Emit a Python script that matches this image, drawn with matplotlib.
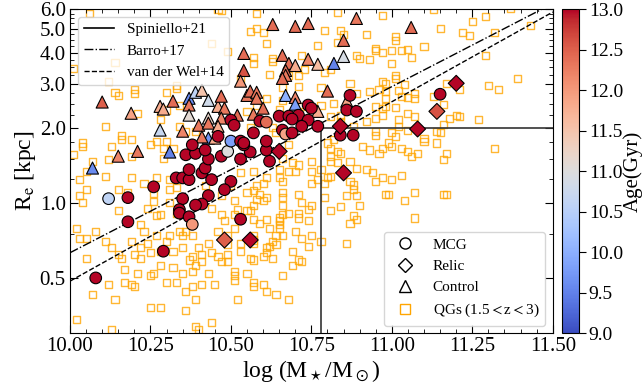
import matplotlib
matplotlib.use("Agg")
import matplotlib.pyplot as plt
from matplotlib.lines import Line2D
from matplotlib.ticker import FixedLocator, MultipleLocator, FormatStrFormatter, NullFormatter
import numpy as np

plt.rcParams["font.family"] = "serif"
plt.rcParams["font.serif"] = ["Liberation Serif", "DejaVu Serif"]
plt.rcParams["mathtext.fontset"] = "stix"

# --- MCGs (circles), colour = age [Gyr] ---------------------------------
mcg_mass = [10.08, 10.12, 10.18, 10.18, 10.29, 10.26, 10.33, 10.35, 10.37, 10.37,
            10.41, 10.42, 10.43, 10.47, 10.53, 10.44, 10.50, 10.48, 10.43, 10.35,
            10.41, 10.39, 10.34, 10.34, 10.37, 10.38, 10.53, 10.62, 10.56, 10.61,
            10.49, 10.50, 10.46, 10.53, 10.54, 10.36, 10.39, 10.38, 10.42, 10.50,
            10.51, 10.59, 10.61, 10.65, 10.68, 10.71, 10.74, 10.75, 10.69, 10.74,
            10.72, 10.77, 10.66, 10.67, 10.69, 10.57, 10.54, 10.61, 10.87, 10.86,
            10.89, 10.84, 10.88, 11.15]
mcg_re = [0.50, 1.04, 1.05, 0.84, 0.64, 1.16, 1.26, 1.26, 1.24, 1.36,
          1.32, 1.38, 1.50, 1.54, 1.50, 1.24, 1.22, 1.13, 1.07, 1.04,
          0.99, 0.98, 0.94, 0.91, 0.88, 0.82, 0.86, 1.47, 1.60, 1.63,
          1.61, 1.77, 1.85, 1.77, 1.71, 1.56, 1.58, 1.71, 1.63, 2.15,
          2.05, 2.13, 2.11, 2.23, 2.23, 2.25, 2.47, 2.40, 2.17, 2.15,
          2.03, 2.03, 1.96, 1.89, 1.91, 1.91, 1.74, 1.77, 2.70, 2.36,
          2.33, 1.87, 1.87, 2.73]
mcg_age = [13.0, 10.6, 13.0, 13.0, 13.0, 13.0, 13.0, 13.0, 13.0, 13.0,
           13.0, 13.0, 13.0, 13.0, 13.0, 13.0, 13.0, 13.0, 13.0, 13.0,
           13.0, 13.0, 13.0, 13.0, 13.0, 12.0, 13.0, 13.0, 13.0, 13.0,
           11.0, 9.8, 13.0, 13.0, 13.0, 13.0, 13.0, 13.0, 13.0, 13.0,
           13.0, 13.0, 12.4, 13.0, 13.0, 13.0, 13.0, 13.0, 13.0, 13.0,
           13.0, 13.0, 13.0, 11.9, 13.0, 13.0, 13.0, 13.0, 13.0, 13.0,
           13.0, 13.0, 13.0, 13.0]

# --- Relics (diamonds) -----------------------------------------------------
relic_mass = [10.65, 10.84, 10.85, 11.08, 11.14, 11.20, 10.48, 10.56]
relic_re = [1.61, 2.03, 1.32, 1.98, 2.33, 3.02, 0.71, 0.71]
relic_age = [13.0, 13.0, 13.0, 13.0, 12.6, 13.0, 12.5, 13.0]

# --- Control sample (triangles) -------------------------------------------
ctl_mass = [10.07, 10.15, 10.21, 10.31, 10.10, 10.19, 10.28, 10.28, 10.32, 10.35,
            10.37, 10.39, 10.41, 10.43, 10.37, 10.37, 10.29, 10.46, 10.48, 10.47,
            10.43, 10.47, 10.52, 10.40, 10.43, 10.46, 10.43, 10.41, 10.45, 10.54,
            10.54, 10.53, 10.55, 10.63, 10.70, 10.74, 10.89, 11.06, 10.85, 10.66,
            10.68, 10.70, 10.74, 10.77, 10.82, 10.85, 10.67, 10.67, 10.66, 10.56,
            10.58, 10.58, 10.67, 10.70, 10.80, 10.70, 10.60, 10.57, 10.77, 10.86]
ctl_re = [1.38, 1.54, 1.61, 1.60, 2.54, 2.29, 2.44, 1.96, 2.56, 1.94,
          2.63, 2.78, 2.83, 2.58, 2.47, 2.25, 2.38, 2.44, 2.40, 2.68,
          2.19, 2.19, 2.25, 2.05, 2.09, 2.03, 1.82, 1.84, 1.82, 3.98,
          3.40, 3.08, 2.70, 5.20, 5.11, 5.25, 5.50, 5.06, 4.49, 3.91,
          3.63, 3.56, 3.77, 3.60, 3.63, 3.87, 3.40, 3.25, 3.16, 2.81,
          2.78, 2.63, 2.70, 2.65, 2.81, 2.49, 2.40, 2.27, 2.33, 2.56]
ctl_age = [9.6, 12.2, 12.3, 9.5, 12.5, 11.9, 11.8, 10.7, 12.4, 12.2,
           9.6, 10.6, 11.5, 10.8, 12.3, 11.1, 11.8, 11.8, 12.3, 12.4,
           11.2, 12.2, 12.4, 12.3, 12.3, 11.8, 9.7, 12.3, 11.8, 12.4,
           12.6, 12.0, 12.3, 12.4, 12.4, 12.4, 12.3, 12.4, 12.4, 12.4,
           12.4, 11.8, 12.2, 11.6, 9.5, 10.9, 12.4, 12.3, 12.4, 12.4,
           12.3, 12.3, 10.0, 12.2, 12.4, 9.8, 12.4, 12.3, 11.8, 11.9]

# --- Quiescent galaxies 1.5 < z < 3 (open squares) -------------------------
qg_mass = [
    10.06, 10.44, 10.49, 10.14, 10.01, 10.12, 10.20, 10.20, 10.14, 10.15,
    10.21, 10.33, 10.33, 10.30, 10.34, 10.28, 10.30, 10.28, 10.34, 10.36,
    10.39, 10.16, 10.11, 10.46, 10.47, 10.58, 10.56, 10.57, 10.57, 10.58,
    10.83, 10.97, 11.13, 10.58, 10.60, 10.79, 10.84, 10.92, 10.85, 11.01,
    11.01, 11.15, 10.61, 10.77, 11.10, 10.95, 10.95, 10.97, 11.00, 11.03,
    11.05, 10.89, 10.90, 10.93, 11.06, 10.63, 10.63, 10.73, 10.79, 10.81,
    11.00, 10.62, 10.68, 10.71, 11.01, 11.01, 11.04, 10.97, 10.98, 10.87,
    10.78, 10.66, 10.71, 10.96, 10.93, 10.98, 10.89, 11.02, 11.03, 11.07,
    11.13, 11.07, 11.05, 10.98, 11.16, 10.66, 10.82, 10.78, 10.95, 10.97,
    10.98, 11.01, 11.05, 11.07, 11.02, 10.97, 10.95, 10.81, 10.84, 10.92,
    10.88, 10.72, 11.16, 11.14, 11.15, 11.02, 11.05, 11.00, 10.95, 10.95,
    11.37, 11.29, 11.25, 11.22, 11.24, 11.32, 11.43, 11.29, 11.39, 11.17,
    11.21, 11.30, 11.33, 11.18, 11.20, 11.21, 11.27,
    11.01, 11.10, 11.14, 11.10, 10.99, 10.97, 11.00, 10.91, 10.93, 10.96,
    11.03, 11.05, 11.06, 11.08, 11.17, 10.80, 10.82, 10.83, 10.84, 10.81,
    10.83, 10.81, 10.87, 10.89, 10.92, 10.94, 10.95, 10.97, 11.00, 11.03,
    11.16, 10.87, 10.88, 10.88, 10.86, 10.89, 10.90, 10.84, 10.81, 10.88,
    10.89, 10.87, 10.86, 11.07, 11.04, 11.07, 10.99, 10.98, 11.16, 10.79,
    10.80, 10.77, 10.75, 10.75, 10.78, 10.75, 10.70, 10.71, 10.69, 10.66,
    10.65, 10.68, 10.65, 10.66, 10.61, 10.60, 10.58, 10.57, 10.59, 10.61,
    10.58, 10.60, 10.57, 10.66, 10.66, 10.66, 10.71, 10.72, 10.75, 10.74,
    10.71, 10.71, 10.74, 10.68, 10.66, 10.65, 10.65, 10.65, 10.65, 10.66,
    10.64, 10.61, 10.59, 10.62, 10.57, 10.56, 10.57, 10.63, 10.64, 10.62,
    10.61, 10.70, 10.75, 10.72, 10.74, 10.78, 10.69, 10.61, 10.60, 10.63,
    10.71,
    10.05, 10.17, 10.21, 10.25, 10.26, 10.30, 10.33, 10.35, 10.38, 10.36,
    10.38, 10.41, 10.43, 10.45, 10.47, 10.51, 10.51, 10.51, 10.55, 10.57,
    10.57, 10.17, 10.19, 10.20, 10.12, 10.07, 10.14, 10.25, 10.28, 10.36,
    10.39, 10.52, 10.44, 10.02, 10.13, 10.39, 10.40, 10.32, 10.28, 10.16,
    10.22, 10.37, 10.39, 10.41, 10.49,
    10.57, 10.69, 10.72, 10.66, 10.60, 10.61, 10.64, 10.68,
    10.04, 10.04, 10.01, 10.16, 10.19, 10.27, 10.30, 10.13, 10.25, 10.29,
    10.12, 10.07, 10.19, 10.32, 10.29, 10.05, 10.03, 10.11, 10.19, 10.27,
    10.31, 10.05, 10.15, 10.18, 10.31, 10.33, 10.03, 10.04, 10.15, 10.24,
    10.26, 10.31, 10.33, 10.28, 10.42, 10.52, 10.51, 10.55, 10.51, 10.44,
    10.47, 10.47, 10.50, 10.53, 10.57, 10.55,
    10.02, 10.03, 10.05, 10.08, 10.11, 10.13, 10.19, 10.22, 10.27, 10.23,
    10.15, 10.20, 10.22, 10.24, 10.25, 10.31, 10.34, 10.35, 10.36, 10.38,
    10.43, 10.46, 10.48, 10.51, 10.49, 10.49, 10.53, 10.57, 10.57, 10.40,
    10.38, 10.41, 10.44, 10.46, 10.49, 10.53, 10.56, 10.35, 10.32, 10.28,
    10.30, 10.27,
    11.32, 11.17, 10.23, 10.26, 10.81, 10.81, 10.79,
    10.83, 10.72, 10.53, 10.61, 10.55, 10.65, 10.73, 10.63, 10.56, 10.64,
    10.84, 10.68]
qg_re = [
    5.75, 4.37, 4.05, 3.66, 3.47, 3.08, 2.86, 2.75, 2.78, 2.70,
    2.29, 2.97, 2.88, 2.78, 2.47, 2.36, 2.36, 2.17, 2.02, 1.94,
    1.94, 1.87, 2.02, 5.97, 5.92, 5.75, 4.88, 3.63, 3.84, 2.47,
    5.80, 5.65, 5.95, 5.01, 4.83, 4.92, 4.92, 4.74, 4.74, 4.66,
    4.49, 5.01, 4.37, 4.29, 4.25, 4.17, 4.10, 4.01, 4.10, 4.10,
    4.13, 3.91, 3.80, 3.77, 3.84, 3.80, 3.70, 3.44, 3.34, 3.44,
    3.63, 3.28, 3.25, 3.25, 3.25, 3.16, 2.99, 3.08, 3.02, 3.02,
    2.91, 2.91, 2.94, 2.86, 2.81, 2.81, 2.75, 2.83, 2.68, 2.75,
    2.68, 2.63, 2.65, 2.63, 2.49, 2.58, 2.51, 2.47, 2.44, 2.40,
    2.44, 2.42, 2.29, 2.23, 2.17, 2.25, 2.19, 2.23, 2.25, 2.13,
    2.03, 2.44, 2.07, 1.94, 1.91, 2.03, 1.96, 1.91, 1.94, 1.87,
    6.05, 5.60, 5.34, 4.83, 4.70, 4.83, 5.16, 3.91, 3.16, 3.02,
    2.86, 2.96, 2.86, 2.19, 2.25, 2.23, 2.17,
    1.85, 1.82, 1.74, 1.77, 1.74, 1.66, 1.69, 1.69, 1.63, 1.58,
    1.66, 1.61, 1.54, 1.58, 1.58, 1.74, 1.79, 1.61, 1.58, 1.66,
    1.45, 1.47, 1.47, 1.38, 1.36, 1.32, 1.22, 1.26, 1.24, 1.29,
    1.49, 1.22, 1.18, 1.13, 1.07, 1.07, 0.98, 0.97, 0.93, 0.89,
    0.86, 0.83, 0.69, 1.10, 1.02, 0.87, 1.08, 1.08, 1.08, 1.05,
    1.26, 1.24, 1.20, 1.34, 1.36, 1.47, 1.34, 1.42, 1.45, 1.51,
    1.36, 1.34, 1.26, 1.22, 1.26, 1.20, 1.17, 1.12, 1.08, 1.05,
    1.03, 1.02, 0.98, 1.10, 1.05, 0.98, 1.08, 1.00, 0.98, 0.94,
    0.91, 0.87, 0.85, 0.91, 0.90, 0.87, 0.85, 0.82, 0.79, 0.74,
    0.74, 0.86, 0.83, 0.79, 0.86, 0.93, 0.71, 0.70, 0.68, 0.67,
    0.66, 0.77, 0.74, 0.72, 0.67, 0.70, 0.64, 0.63, 0.61, 0.60,
    0.59,
    0.60, 0.54, 0.52, 0.51, 0.52, 0.48, 0.48, 0.52, 0.53, 0.44,
    0.46, 0.47, 0.52, 0.47, 0.58, 0.53, 0.51, 0.49, 0.52, 0.48,
    0.46, 0.48, 0.47, 0.46, 0.47, 0.43, 0.41, 0.38, 0.38, 0.37,
    0.41, 0.41, 0.33, 0.34, 0.31, 0.32, 0.31, 0.55, 0.56, 0.60,
    0.60, 0.59, 0.56, 0.58, 0.58,
    0.59, 0.56, 0.58, 0.51, 0.47, 0.44, 0.43, 0.41,
    1.74, 1.69, 1.57, 1.79, 1.79, 1.77, 1.77, 1.69, 1.71, 1.66,
    1.49, 1.47, 1.54, 1.66, 1.51, 1.34, 1.24, 1.28, 1.27, 1.26,
    1.24, 1.13, 1.13, 1.10, 1.13, 1.15, 1.07, 1.00, 0.93, 0.95,
    1.01, 1.00, 0.91, 0.90, 1.17, 0.94, 0.90, 0.93, 1.02, 0.95,
    0.90, 1.07, 1.18, 1.32, 1.34, 1.10,
    0.79, 0.72, 0.72, 0.77, 0.70, 0.66, 0.70, 0.82, 0.89, 0.77,
    0.62, 0.62, 0.66, 0.69, 0.63, 0.74, 0.77, 0.74, 0.77, 0.74,
    0.69, 0.77, 0.85, 0.79, 0.74, 0.68, 0.69, 0.74, 0.69, 0.66,
    0.61, 0.62, 0.63, 0.61, 0.62, 0.64, 0.60, 0.66, 0.64, 0.64,
    0.70, 0.74,
    1.66, 1.08, 1.20, 1.09, 1.54, 1.28, 1.20,
    4.41, 3.91, 3.16, 2.63, 2.33, 2.36, 2.33, 2.00, 2.01, 1.91,
    2.13, 1.71]

# literature relations
M_RELIC, RE_RELIC = 10.78, 2.0          # Spiniello+21 relic box
XLIM = (10.0, 11.5)
YLIM = (0.3, 6.0)

cmap = plt.get_cmap("coolwarm")
norm = plt.Normalize(9.0, 13.0)

fig = plt.figure(figsize=(6.42, 3.92), dpi=100)
ax = fig.add_axes([0.109, 0.150, 0.752, 0.827])
cax = fig.add_axes([0.875, 0.150, 0.027, 0.827])

ax.scatter(qg_mass, qg_re, marker="s", s=26, facecolors="none",
           edgecolors="orange", linewidths=1.0, alpha=0.8, zorder=1)

sc = ax.scatter(ctl_mass, ctl_re, c=ctl_age, cmap=cmap, norm=norm, marker="^",
                s=75, edgecolors="black", linewidths=0.8, zorder=3)
ax.scatter(mcg_mass, mcg_re, c=mcg_age, cmap=cmap, norm=norm, marker="o",
           s=70, edgecolors="black", linewidths=0.8, zorder=4)
ax.scatter(relic_mass, relic_re, c=relic_age, cmap=cmap, norm=norm, marker="D",
           s=66, edgecolors="black", linewidths=0.8, zorder=5)

# Spiniello+21
ax.plot([M_RELIC, M_RELIC], [YLIM[0], RE_RELIC], color="#333333", lw=1.2, zorder=2)
ax.plot([M_RELIC, XLIM[1]], [RE_RELIC, RE_RELIC], color="#333333", lw=1.2, zorder=2)
mm = np.linspace(XLIM[0], XLIM[1], 50)
# Barro+17: Sigma_1.5 threshold
ax.plot(mm, 10 ** ((mm - 10.3) / 1.5), color="black", ls="-.", lw=1.0, zorder=2)
# van der Wel+14 early types at z~1.75
ax.plot(mm, 10 ** (0.19 + 0.72 * (mm - 10.7)), color="black", ls="--", lw=1.0, zorder=2)

ax.set_xlim(*XLIM)
ax.set_yscale("log")
ax.set_ylim(*YLIM)
ax.yaxis.set_major_locator(FixedLocator([0.5, 1.0, 2.0, 3.0, 4.0, 5.0, 6.0]))
ax.yaxis.set_major_formatter(FormatStrFormatter("%.1f"))
ax.yaxis.set_minor_locator(MultipleLocator(0.25))
ax.yaxis.set_minor_formatter(NullFormatter())
ax.xaxis.set_major_locator(MultipleLocator(0.25))
ax.xaxis.set_minor_locator(MultipleLocator(0.05))
ax.xaxis.set_major_formatter(FormatStrFormatter("%.2f"))
ax.tick_params(which="both", direction="in", top=True, right=True, labelsize=15)
ax.tick_params(which="major", length=6, pad=3)
ax.tick_params(which="minor", length=3)

ax.set_xlabel(r"log (M$_\star$/M$_\odot$)", fontsize=17, labelpad=1)
ax.set_ylabel(r"R$_{\rm e}$ [kpc]", fontsize=17, labelpad=1)

leg1 = ax.legend(handles=[
    Line2D([], [], color="black", ls="-", lw=1.2, label="Spiniello+21"),
    Line2D([], [], color="black", ls="-.", lw=1.0, label="Barro+17"),
    Line2D([], [], color="black", ls="--", lw=1.0, label="van der Wel+14"),
], loc="upper left", fontsize=11, framealpha=0.8)
ax.add_artist(leg1)
ax.legend(handles=[
    Line2D([], [], ls="none", marker="o", mfc="white", mec="black", ms=8, label="MCG"),
    Line2D([], [], ls="none", marker="D", mfc="white", mec="black", ms=7, label="Relic"),
    Line2D([], [], ls="none", marker="^", mfc="white", mec="black", ms=8, label="Control"),
    Line2D([], [], ls="none", marker="s", mfc="none", mec="orange", ms=7, label=r"QGs (1.5$<$z$<$3)"),
], loc="lower right", fontsize=11, framealpha=0.8)

cb = fig.colorbar(sc, cax=cax)
cb.set_ticks(np.arange(9.0, 13.01, 0.5))
cb.ax.yaxis.set_major_formatter(FormatStrFormatter("%.1f"))
cb.ax.tick_params(labelsize=14, length=5, pad=2)
cb.set_label("Age(Gyr)", fontsize=15, labelpad=0)

fig.savefig("out.png", dpi=100)
